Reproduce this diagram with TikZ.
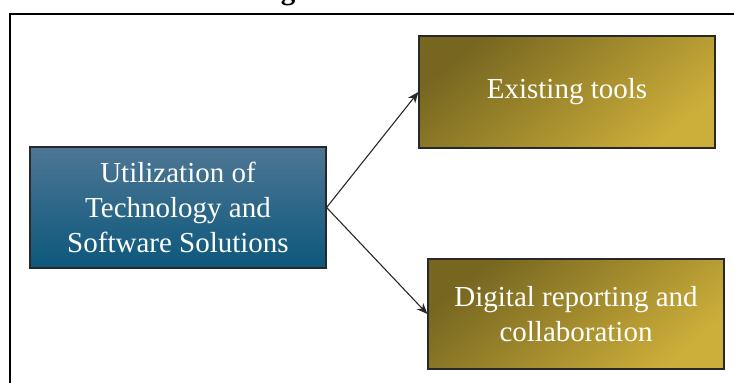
\documentclass[tikz,border=0pt]{standalone}
\usepackage{fontspec}
\setmainfont{Liberation Serif}
\usetikzlibrary{arrows.meta}
\definecolor{blueTop}{RGB}{78,118,148}
\definecolor{blueBot}{RGB}{12,88,124}
\definecolor{goldDark}{RGB}{118,102,32}
\definecolor{goldLight}{RGB}{204,174,58}
\definecolor{edgeGray}{RGB}{40,40,40}
\tikzset{
  boxbase/.style={draw=edgeGray, line width=1.2pt, inner sep=0pt, text=white,
    align=center, font=\fontsize{29}{35}\selectfont},
  bluebox/.style={boxbase, top color=blueTop, bottom color=blueBot},
  goldbox/.style={boxbase, top color=goldDark, bottom color=goldLight, shading angle=40},
  link/.style={draw=edgeGray, line width=1.1pt, -{Stealth[length=11pt,width=9pt]}}
}
\begin{document}
\begin{tikzpicture}[x=1pt,y=-1pt]
\useasboundingbox (0,0) rectangle (734,383);
\draw[line width=1.6pt] (10,14) rectangle (745,395);
\node[anchor=base, font=\bfseries\fontsize{29}{35}\selectfont] (ttl) at (288,-0.5) {g};
\node[bluebox, minimum width=296pt, minimum height=121pt] (src) at (178,207.5)
  {Utilization of\\Technology and\\Software Solutions};
\node[goldbox, minimum width=296pt, minimum height=112pt] (tools) at (567,92)
  {Existing tools};
\node[goldbox, minimum width=296pt, minimum height=110pt] (digi) at (576,314)
  {Digital reporting and\\collaboration};
\draw[link] (src.east) -- (tools.west);
\draw[link] (src.east) -- (digi.west);
\end{tikzpicture}
\end{document}
